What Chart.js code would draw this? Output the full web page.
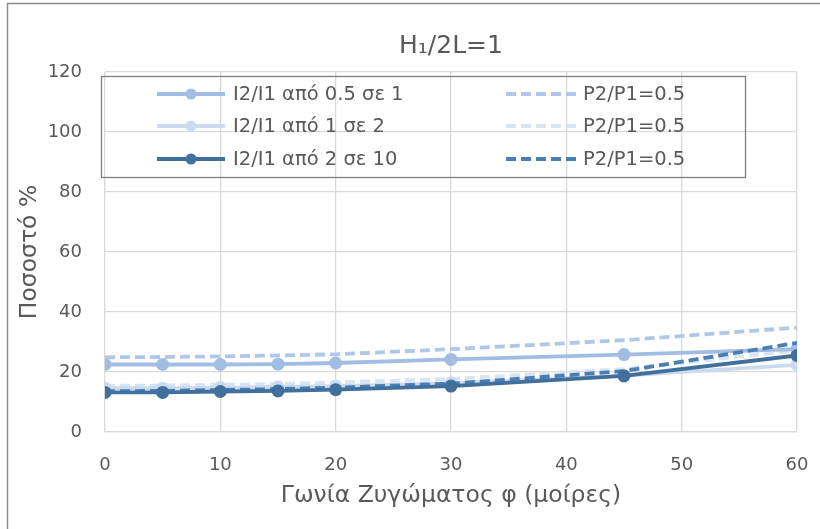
<!DOCTYPE html>
<html>
<head>
<meta charset="utf-8">
<script src="https://cdn.jsdelivr.net/npm/chart.js@4/dist/chart.umd.min.js"></script>
<style>
  html, body { margin: 0; padding: 0; background: #fff; }
  #wrap { width: 820px; height: 529px; position: relative; }
</style>
</head>
<body>
<div id="wrap"><canvas id="c" width="820" height="529"></canvas></div>
<script>
// Zygoma angle φ (degrees)
const angles = [0, 5, 10, 15, 20, 30, 45, 60];

// Percentage values per series
const ratio05to1   = [22.5, 22.5, 22.5, 22.6, 23.0, 24.2, 25.8, 27.6];
const ratio05to1P  = [24.9, 25.0, 25.2, 25.5, 25.9, 27.6, 30.6, 34.8];
const ratio1to2    = [14.6, 14.6, 14.8, 15.0, 15.3, 16.3, 18.8, 22.4];
const ratio1to2P   = [15.4, 15.5, 15.7, 16.0, 16.5, 17.7, 21.0, 27.2];
const ratio2to10   = [13.2, 13.2, 13.5, 13.7, 14.1, 15.3, 18.7, 25.5];
const ratio2to10P  = [13.6, 13.7, 14.0, 14.3, 14.8, 16.1, 20.3, 29.7];

const seriesLabels = ['I2/I1 από 0.5 σε 1', 'I2/I1 από 1 σε 2', 'I2/I1 από 2 σε 10'];
const dashedLabel = 'P2/P1=0.5';
const yTicks = [0, 20, 40, 60, 80, 100, 120];
const xTicks = [0, 10, 20, 30, 40, 50, 60];

const FONT = '"DejaVu Sans", Verdana, sans-serif';
const TXT = '#595959';

const cSolid1 = '#a2bde3';
const cSolid2 = '#cadbef';
const cSolid3 = '#41709d';
const cDash1  = '#afc7e8';
const cDash2  = '#d9e4f3';
const cDash3  = '#4a7fb4';

function pts(arr) { return angles.map((a, i) => ({ x: a, y: arr[i] })); }

function solid(label, data, color, order) {
  return { label, data: pts(data), borderColor: color, backgroundColor: color, order,
    borderWidth: 3.8, pointRadius: 6.5, pointHoverRadius: 6.5, pointBorderWidth: 0,
    pointBackgroundColor: color, tension: 0 };
}
function dashed(label, data, color, order) {
  return { label, data: pts(data), borderColor: color, backgroundColor: color, order,
    borderWidth: 3.8, borderDash: [10, 5], pointRadius: 0, tension: 0 };
}

// lower order is painted on top
const datasets = [
  solid(seriesLabels[0], ratio05to1, cSolid1, 2),
  solid(seriesLabels[1], ratio1to2, cSolid2, 4),
  solid(seriesLabels[2], ratio2to10, cSolid3, 0),
  dashed(dashedLabel, ratio05to1P, cDash1, 3),
  dashed(dashedLabel, ratio1to2P, cDash2, 5),
  dashed(dashedLabel, ratio2to10P, cDash3, 1)
];

// Framed two-column legend drawn inside the plot area
const boxLegend = {
  id: 'boxLegend',
  afterDraw(chart) {
    const ctx = chart.ctx;
    const L = 101, T = 76, W = 644, H = 101;
    ctx.save();
    ctx.strokeStyle = '#7f7f7f';
    ctx.lineWidth = 1.3;
    ctx.strokeRect(L + 0.5, T + 0.5, W, H);
    const rows = [94, 126, 159];
    const solids = [cSolid1, cSolid2, cSolid3];
    const dashes = [cDash1, cDash2, cDash3];
    ctx.font = '19.5px ' + FONT;
    ctx.textBaseline = 'middle';
    rows.forEach((y, i) => {
      ctx.strokeStyle = solids[i];
      ctx.lineWidth = 3.8;
      ctx.setLineDash([]);
      ctx.beginPath(); ctx.moveTo(157, y); ctx.lineTo(225, y); ctx.stroke();
      ctx.fillStyle = solids[i];
      ctx.beginPath(); ctx.arc(191, y, 5.5, 0, Math.PI * 2); ctx.fill();
      ctx.fillStyle = TXT;
      ctx.fillText(seriesLabels[i], 233, y + 1);
      ctx.strokeStyle = dashes[i];
      ctx.setLineDash([10, 5]);
      ctx.beginPath(); ctx.moveTo(506, y); ctx.lineTo(578, y); ctx.stroke();
      ctx.setLineDash([]);
      ctx.fillText(dashedLabel, 583, y + 1);
    });
    ctx.restore();
  }
};

// Angle labels under the x axis, placed with the x scale
const xTickLabels = {
  id: 'xTickLabels',
  afterDraw(chart) {
    const s = chart.scales.x;
    const ctx = chart.ctx;
    const y = chart.chartArea.bottom + 33;
    ctx.save();
    ctx.font = '18px ' + FONT;
    ctx.fillStyle = TXT;
    ctx.textAlign = 'center';
    ctx.textBaseline = 'middle';
    xTicks.forEach(v => ctx.fillText(String(v), s.getPixelForValue(v), y));
    ctx.restore();
  }
};

// Frame lines along the top and left of the chart
const frame = {
  id: 'frame',
  afterDraw(chart) {
    const ctx = chart.ctx;
    ctx.save();
    ctx.strokeStyle = '#8c8c8c';
    ctx.lineWidth = 1.5;
    ctx.beginPath();
    ctx.moveTo(7.5, 529); ctx.lineTo(7.5, 3.5); ctx.lineTo(820, 3.5);
    ctx.stroke();
    ctx.restore();
  }
};

new Chart(document.getElementById('c'), {
  type: 'line',
  data: { datasets },
  options: {
    responsive: false,
    animation: false,
    layout: { padding: { left: 0, right: 23, top: 0, bottom: 0 } },
    plugins: {
      legend: { display: false },
      tooltip: { enabled: false },
      title: {
        display: true,
        fullSize: false,
        text: 'H\u2081/2L=1',
        color: TXT,
        font: { family: FONT, size: 25, weight: 'normal' },
        padding: { top: 31, bottom: 11 }
      }
    },
    scales: {
      x: {
        type: 'linear',
        min: 0, max: 60,
        afterBuildTicks(s) { s.ticks = xTicks.map(v => ({ value: v })); },
        afterFit(s) { s.height = 97; s.paddingLeft = 0; s.paddingRight = 0; },
        grid: { color: '#d9d9d9', lineWidth: 1.3, drawTicks: false },
        border: { color: '#d9d9d9', width: 1.3 },
        ticks: { display: false },
        title: {
          display: true,
          text: 'Γωνία Ζυγώματος φ (μοίρες)',
          color: TXT,
          font: { family: FONT, size: 23.5 },
          padding: { top: 0, bottom: 19 }
        }
      },
      y: {
        min: 0, max: 120,
        afterBuildTicks(s) { s.ticks = yTicks.map(v => ({ value: v })); },
        afterFit(s) { s.width = 105; },
        grid: { color: '#d9d9d9', lineWidth: 1.3, drawTicks: false },
        border: { display: false },
        ticks: { color: TXT, font: { family: FONT, size: 18 }, padding: 23 },
        title: {
          display: true,
          text: 'Ποσοστό %',
          color: TXT,
          font: { family: FONT, size: 23.5 },
          padding: { top: 16, bottom: 0 }
        }
      }
    }
  },
  plugins: [boxLegend, xTickLabels, frame]
});
</script>
</body>
</html>
